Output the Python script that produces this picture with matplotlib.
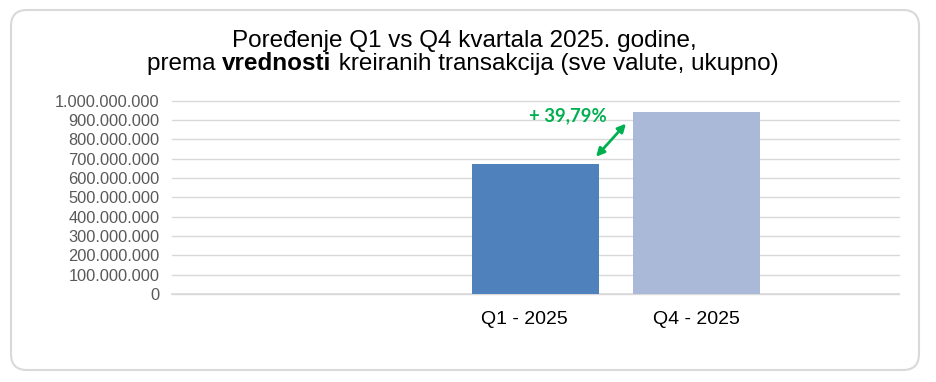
import numpy as np
import matplotlib
matplotlib.use("Agg")
import matplotlib.pyplot as plt
from matplotlib.patches import FancyBboxPatch
from matplotlib.transforms import IdentityTransform, offset_copy
from matplotlib.ticker import FuncFormatter

# data
categories = ["Q1 - 2025", "Q4 - 2025"]
values = [672_000_000, 939_400_000]
bar_colors = ["#4f81bd", "#aab9d7"]
yticks = np.arange(0, 1_000_000_001, 100_000_000)

W, H, DPI = 936, 382, 100
fig = plt.figure(figsize=(W / DPI, H / DPI), dpi=DPI)
fig.patch.set_facecolor("white")

# rounded frame around the whole chart (pixel coords)
frame = FancyBboxPatch((11, H - 370), 908, 360,
                       boxstyle="round,pad=0,rounding_size=16",
                       linewidth=1.5, edgecolor="#d9d9d9", facecolor="none",
                       transform=IdentityTransform())
fig.patches.append(frame)

ax = fig.add_axes([172 / W, 1 - 294 / H, 727 / W, (294 - 100.7) / H])
x = np.arange(len(categories))
ax.bar(x, values, width=0.79, color=bar_colors, zorder=3)
ax.set_xlim(-2.258, 2.258)
ax.set_ylim(0, 1_000_000_000)
ax.set_yticks(yticks)
ax.yaxis.set_major_formatter(FuncFormatter(lambda v, p: f"{int(v):,}".replace(",", ".")))
ax.set_xticks(x)
ax.set_xticklabels(categories, fontsize=14, family="Liberation Sans", color="black")
ax.tick_params(axis="y", length=0, pad=9, labelsize=11.8, labelcolor="#595959")
ax.tick_params(axis="x", length=0, pad=12)
for lab in ax.get_yticklabels():
    lab.set_family("Liberation Sans")
# first category label sits a bit left of its bar in the original
q1_lab = ax.get_xticklabels()[0]
q1_lab.set_transform(offset_copy(q1_lab.get_transform(), fig=fig, x=-11, y=0, units="dots"))
ax.grid(axis="y", color="#d9d9d9", linewidth=1, zorder=0, clip_on=False)
for s in ["top", "left", "right"]:
    ax.spines[s].set_visible(False)
ax.spines["bottom"].set_color("#d9d9d9")
ax.spines["bottom"].set_linewidth(1.2)

# growth annotation
growth = (values[1] / values[0] - 1) * 100
green = "#00b050"
ax.annotate("", xy=(0.562, values[1] - 58_000_000), xytext=(0.376, values[0] + 38_000_000),
            arrowprops=dict(arrowstyle="<|-|>", color=green, lw=2, mutation_scale=12,
                            shrinkA=0, shrinkB=0), zorder=5)
ax.text(0.202, values[1] - 17_000_000, "+ " + f"{growth:.2f}".replace(".", ",") + "%",
        ha="center", va="center", fontsize=13.3, fontweight="bold", color=green,
        family="Lato", zorder=5)

# title, second line has one bold word
tfont = dict(family="Liberation Sans", fontsize=17.5, color="black")
fig.text(464.5 / W, 1 - 47 / H, "Poređenje Q1 vs Q4 kvartala 2025. godine,",
         ha="center", va="baseline", **tfont)
parts = [("prema ", "normal"), ("vrednosti", "bold"), (" kreiranih transakcija (sve valute, ukupno)", "normal")]
renderer = fig.canvas.get_renderer()
pieces = []
for txt, wt in parts:
    t = fig.text(0, 1 - 70 / H, txt, ha="left", va="baseline", fontweight=wt, **tfont)
    pieces.append(t)
widths = [t.get_window_extent(renderer).width for t in pieces]
xpos = 462.5 - sum(widths) / 2
for t, w in zip(pieces, widths):
    t.set_x(xpos / W)
    xpos += w

fig.savefig("out.png", dpi=DPI)
